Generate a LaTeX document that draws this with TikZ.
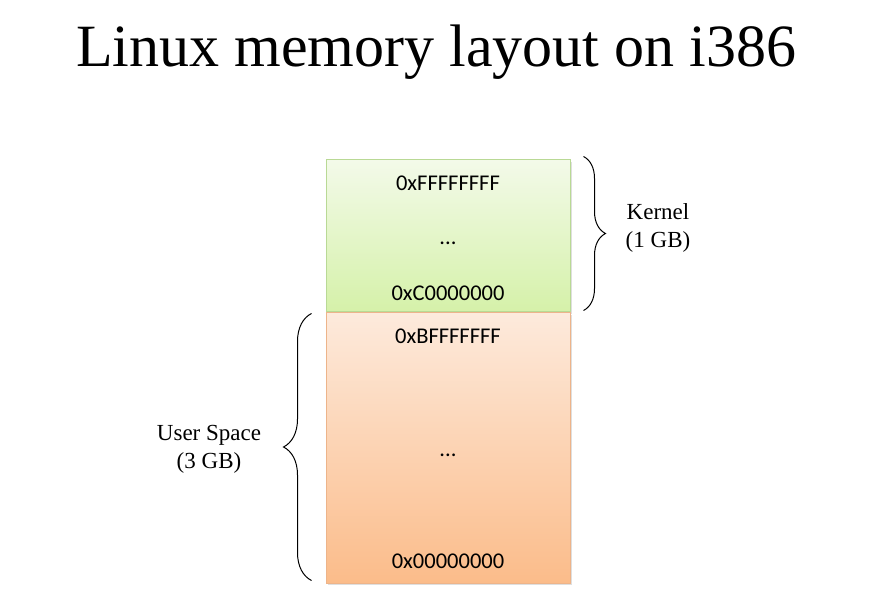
\documentclass[tikz,border=0pt]{standalone}
\usepackage{fontspec}
\setmainfont{Liberation Serif}
\newfontfamily\boxfont{Carlito}
\usetikzlibrary{positioning, shadows, decorations.pathreplacing}
\definecolor{kerntop}{HTML}{F3FAE9}
\definecolor{kernbot}{HTML}{D5F1A9}
\definecolor{kernline}{HTML}{B9D995}
\definecolor{usertop}{HTML}{FDEADC}
\definecolor{userbot}{HTML}{FBBC8A}
\definecolor{userline}{HTML}{EDB48A}
\tikzset{
	region/.style = {draw, line width=1pt, minimum width=244pt, inner sep=0pt,
	 drop shadow={shadow xshift=2pt, shadow yshift=-2pt, opacity=0.25}},
	kernel/.style = {region, minimum height=152pt, draw=kernline,
	 top color=kerntop, bottom color=kernbot},
	user/.style = {region, minimum height=270pt, draw=userline,
	 top color=usertop, bottom color=userbot},
	addr/.style = {font=\boxfont\fontsize{22.5}{26}\selectfont},
	side/.style = {font=\fontsize{23}{28}\selectfont, align=center},
	rbrace/.style = {decorate, decoration={brace, amplitude=22pt}, line width=1pt},
	lbrace/.style = {decorate, decoration={brace, amplitude=28pt}, line width=1pt}
}

\begin{document}
\begin{tikzpicture}[x=1pt, y=-1pt]
\useasboundingbox (0,0) rectangle (871,612);

% NODES
% title
\node (title) at (436,52) {\fontsize{60}{70}\selectfont Linux memory layout on i386};
% memory regions
\node (kern) [kernel] at (448,236) {};
\node (user) [user, below=0pt of kern] {};
% addresses
\node (ktop) [addr, below=13pt of kern.north] {0xFFFFFFFF};
\node (kdots) [addr, yshift=-7pt] at (kern.center) {...};
\node (kbot) [addr, above=8pt of kern.south] {0xC0000000};
\node (utop) [addr, below=13pt of user.north] {0xBFFFFFFF};
\node (udots) [addr, yshift=-7pt] at (user.center) {...};
\node (ubot) [addr, above=11pt of user.south] {0x00000000};
% brace ends
\coordinate (kb1) at ([xshift=13pt, yshift=3pt]kern.north east);
\coordinate (kb2) at ([xshift=13pt, yshift=2pt]kern.south east);
\coordinate (ub1) at ([xshift=-14pt, yshift=-1pt]user.north west);
\coordinate (ub2) at ([xshift=-14pt, yshift=3pt]user.south west);
% labels
\node (klabel) [side] at (658,228) {Kernel\\(1 GB)};
\node (ulabel) [side] at (209,449) {User Space\\(3 GB)};

% CONNECTIONS
\draw [rbrace] (kb1) -- (kb2);
\draw [lbrace] (ub2) -- (ub1);

\end{tikzpicture}
\end{document}
